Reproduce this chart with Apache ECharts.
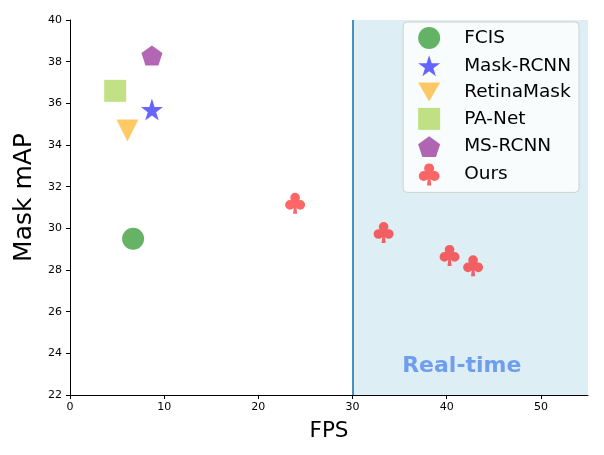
<!DOCTYPE html>
<html><head><meta charset="utf-8">
<script src="https://cdn.jsdelivr.net/npm/echarts@6/dist/echarts.min.js"></script>
<style>html,body{margin:0;padding:0;background:#fff}#c{width:604px;height:455px}</style>
</head><body><div id="c"></div>
<script>
const methods = ['FCIS','Mask-RCNN','RetinaMask','PA-Net','MS-RCNN'];
const methodFPS = [6.7, 8.7, 6.1, 4.8, 8.7];
const methodMAP = [29.5, 35.7, 34.7, 36.6, 38.3];
const oursFPS = [23.9, 33.3, 40.3, 42.8];
const oursMAP = [31.2, 29.8, 28.7, 28.2];
const realTimeFrom = 30;
const xTicks = [0,10,20,30,40,50];
const yTicks = [22,24,26,28,30,32,34,36,38,40];

const clubPath = 'path://M14.7 4.7A4.7 4.7 0 1 0 5.3 4.7A4.7 4.7 0 1 0 14.7 4.7Z M9.7 11.7A4.7 4.7 0 1 0 0.3 11.7A4.7 4.7 0 1 0 9.7 11.7Z M19.7 11.7A4.7 4.7 0 1 0 10.3 11.7A4.7 4.7 0 1 0 19.7 11.7Z M6 7L6 14L14 14L14 7Z M9.2 10L8 20.5L12 20.5L10.8 10Z';
const symbols = ['circle',
  'path://M50 0L61.8 36.2L100 36.2L69.1 58.6L80.9 95.1L50 72.7L19.1 95.1L30.9 58.6L0 36.2L38.2 36.2Z',
  'path://M0 0L100 0L50 86.6Z',
  'rect',
  'path://M50 0L100 36.3L80.9 95.1L19.1 95.1L0 36.3Z'];
const colors = ['rgba(0,128,0,0.6)','rgba(0,0,255,0.6)','rgba(255,165,0,0.6)','rgba(154,205,50,0.6)','rgba(128,0,128,0.6)'];
const sizes = [22, 22, [22,22], 22, [21,20]];

const series = methods.map((m,i)=>({
  name: m, type:'scatter', symbol: symbols[i], symbolSize: sizes[i],
  itemStyle:{color: colors[i], opacity:1},
  data: [[methodFPS[i], methodMAP[i]]], z: 3
}));
series.push({
  name:'Ours', type:'scatter', symbol: clubPath, symbolSize:[20,21],
  itemStyle:{color:'rgba(255,0,0,0.6)', opacity:1},
  data: oursFPS.map((x,i)=>[x, oursMAP[i]]), z: 3,
  markArea:{silent:true, itemStyle:{color:'#ddeef5'}, data:[[{xAxis:realTimeFrom},{xAxis:55}]]},
  markLine:{silent:true, symbol:'none', label:{show:false}, lineStyle:{color:'#1f77b4', width:1.6, type:'solid'}, data:[{xAxis:realTimeFrom}]},
  markPoint:{silent:true, symbol:'circle', symbolSize:0,
    label:{show:true, position:'inside', formatter:'Real-time', fontFamily:'DejaVu Sans', fontWeight:'bold', fontSize:22, color:'rgba(100,149,237,0.9)'},
    data:[{coord:[41.6, 23.38]}]}
});

const chart = echarts.init(document.getElementById('c'));
chart.setOption({
  animation:false,
  grid:{left:70, right:16, top:20, bottom:60},
  xAxis:{type:'value', min:0, max:55, interval:10, name:'FPS', nameLocation:'middle', nameGap:25,
    nameTextStyle:{fontFamily:'DejaVu Sans', fontSize:21.5, color:'#000'},
    axisLine:{lineStyle:{color:'#000', width:1}}, axisTick:{show:true, length:4, lineStyle:{color:'#000'}},
    axisLabel:{color:'#000', fontFamily:'DejaVu Sans', fontSize:11, margin:7, showMaxLabel:false,
      formatter:v=> xTicks.includes(v)? String(v):''},
    splitLine:{show:false}},
  yAxis:{type:'value', min:22, max:40, interval:2, name:'Mask mAP', nameLocation:'middle', nameGap:29,
    nameTextStyle:{fontFamily:'DejaVu Sans', fontSize:25, color:'#000', padding:[0,0,0,20]},
    axisLine:{show:true, lineStyle:{color:'#000', width:1}}, axisTick:{show:true, length:4, lineStyle:{color:'#000'}},
    axisLabel:{color:'#000', fontFamily:'DejaVu Sans', fontSize:11, margin:8,
      formatter:v=> yTicks.includes(v)? String(v):''},
    splitLine:{show:false}},
  legend:{orient:'vertical', right:25, top:22, itemWidth:22, itemHeight:22, itemGap:6.3,
    padding:[5,8,7,15],
    backgroundColor:'rgba(255,255,255,0.8)', borderColor:'#d0d0d0', borderWidth:1, borderRadius:4,
    textStyle:{fontFamily:'DejaVu Sans', fontSize:18.5, color:'#000', padding:[0,0,0,19]},
    data:[...methods, 'Ours']},
  series
});
</script></body></html>
